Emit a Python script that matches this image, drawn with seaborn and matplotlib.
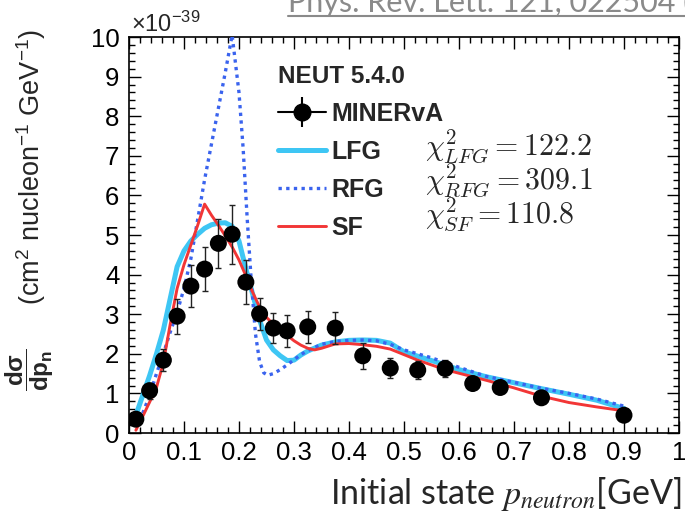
import matplotlib
matplotlib.use("Agg")
import numpy as np
import pandas as pd
import matplotlib.pyplot as plt
import seaborn as sns
from matplotlib.lines import Line2D
from matplotlib.legend_handler import HandlerTuple
from matplotlib.ticker import MultipleLocator, FuncFormatter

# MINERvA measurement: initial-state neutron momentum [GeV], d(sigma)/dp_n [1e-39 cm^2/nucleon/GeV]
data_p = [0.0125, 0.0375, 0.0625, 0.0875, 0.1125, 0.1375, 0.1625, 0.1875, 0.2125, 0.2375,
          0.2625, 0.2875, 0.325, 0.375, 0.425, 0.475, 0.525, 0.575, 0.625, 0.675, 0.75, 0.9]
data_xs = [0.35, 1.07, 1.84, 2.95, 3.71, 4.14, 4.79, 5.02, 3.81, 3.01,
           2.65, 2.58, 2.68, 2.65, 1.95, 1.64, 1.59, 1.63, 1.25, 1.15, 0.89, 0.45]
data_err = [0.08, 0.20, 0.28, 0.44, 0.53, 0.56, 0.61, 0.74, 0.56, 0.40,
            0.38, 0.40, 0.41, 0.40, 0.33, 0.25, 0.22, 0.22, 0.13, 0.12, 0.10, 0.08]

# NEUT 5.4.0 predictions
lfg_p = [0.0125, 0.025, 0.0375, 0.05, 0.0625, 0.075, 0.0875, 0.1, 0.1125, 0.125, 0.1375, 0.15,
         0.1625, 0.175, 0.1875, 0.2, 0.2125, 0.225, 0.2375, 0.25, 0.2625, 0.275, 0.2875, 0.3,
         0.3125, 0.325, 0.35, 0.375, 0.4, 0.425, 0.45, 0.475, 0.5, 0.525, 0.55, 0.575, 0.6,
         0.65, 0.7, 0.75, 0.8, 0.85, 0.9]
lfg_xs = [0.45, 0.95, 1.45, 2.0, 2.6, 3.4, 4.2, 4.6, 4.85, 5.02, 5.17, 5.26,
          5.30, 5.31, 5.22, 4.85, 4.15, 3.5, 2.85, 2.35, 2.1, 1.95, 1.83, 1.84,
          1.97, 2.07, 2.22, 2.30, 2.34, 2.35, 2.34, 2.27, 2.05, 1.94, 1.83, 1.72, 1.60,
          1.42, 1.27, 1.12, 0.98, 0.83, 0.62]

rfg_p = [0.0125, 0.025, 0.0375, 0.05, 0.0625, 0.075, 0.0875, 0.1, 0.1125, 0.125, 0.1375, 0.15,
         0.1625, 0.175, 0.1875, 0.2, 0.2075, 0.215, 0.2225, 0.23, 0.2375, 0.245, 0.2525, 0.2625,
         0.275, 0.2875, 0.3, 0.3125, 0.325, 0.35, 0.375, 0.4, 0.425, 0.45, 0.475, 0.5, 0.525,
         0.55, 0.575, 0.6, 0.65, 0.7, 0.75, 0.8, 0.85, 0.9]
rfg_xs = [0.15, 0.5, 0.95, 1.5, 2.0, 2.55, 3.05, 3.65, 4.4, 5.4, 6.4, 7.3,
          8.2, 9.1, 10.05, 8.6, 7.2, 5.4, 3.8, 2.5, 1.8, 1.52, 1.46, 1.5,
          1.6, 1.72, 1.85, 1.98, 2.08, 2.24, 2.31, 2.34, 2.35, 2.33, 2.24, 2.1, 2.0,
          1.9, 1.78, 1.66, 1.43, 1.28, 1.13, 1.0, 0.86, 0.68]

sf_p = [0.0125, 0.025, 0.0375, 0.05, 0.0625, 0.075, 0.0875, 0.1, 0.1125, 0.125, 0.1375, 0.15,
        0.1625, 0.175, 0.1875, 0.2, 0.2125, 0.225, 0.2375, 0.25, 0.2625, 0.275, 0.2875, 0.3,
        0.3125, 0.325, 0.3375, 0.35, 0.375, 0.4, 0.425, 0.45, 0.475, 0.5, 0.525, 0.55, 0.575,
        0.6, 0.65, 0.7, 0.75, 0.8, 0.85, 0.9]
sf_xs = [0.07, 0.42, 0.78, 1.15, 1.78, 2.75, 3.65, 4.25, 4.75, 5.25, 5.78, 5.5,
         5.25, 4.98, 4.70, 4.37, 3.97, 3.55, 3.18, 2.92, 2.75, 2.6, 2.47, 2.33,
         2.22, 2.14, 2.10, 2.14, 2.25, 2.26, 2.23, 2.19, 2.12, 1.98, 1.84, 1.72, 1.6,
         1.51, 1.33, 1.14, 0.93, 0.77, 0.66, 0.56]

model_names = ["LFG", "RFG", "SF"]
chi2_values = [122.2, 309.1, 110.8]

generator = "NEUT 5.4.0"
experiment = "MINERvA"
citation = "Phys. Rev. Lett. 121, 022504 ("

# ---------------------------------------------------------------- style
sns.set_theme(style="ticks")
plt.rcParams["font.family"] = ["Liberation Sans", "DejaVu Sans"]
plt.rcParams["mathtext.fontset"] = "custom"
plt.rcParams["mathtext.rm"] = "Liberation Sans"
plt.rcParams["mathtext.it"] = "Liberation Sans:italic"
plt.rcParams["mathtext.bf"] = "Liberation Sans:bold"
plt.rcParams["mathtext.sf"] = "Liberation Sans"

c_lfg = "#3ec6f4"
c_rfg = "#3a63ee"
c_sf = "#f23636"
dot_style = (0, (1.0, 1.3))

fig = plt.figure(figsize=(6.85, 5.13), dpi=100)
ax = fig.add_axes([0.1883, 0.1559, 0.8029, 0.7719])

lfg = pd.DataFrame({"p": lfg_p, "xs": lfg_xs})
rfg = pd.DataFrame({"p": rfg_p, "xs": rfg_xs})
sf = pd.DataFrame({"p": sf_p, "xs": sf_xs})
meas = pd.DataFrame({"p": data_p, "xs": data_xs, "err": data_err})

sns.lineplot(data=lfg, x="p", y="xs", ax=ax, color=c_lfg, lw=3.6, zorder=2,
             estimator=None, sort=False)
sns.lineplot(data=rfg, x="p", y="xs", ax=ax, color=c_rfg, lw=2.4, linestyle=dot_style,
             dash_capstyle="butt", zorder=3, estimator=None, sort=False)
sns.lineplot(data=sf, x="p", y="xs", ax=ax, color=c_sf, lw=2.1, zorder=4,
             estimator=None, sort=False)

ax.errorbar(meas["p"], meas["xs"], yerr=meas["err"], fmt="none", ecolor="#222222",
            elinewidth=1.0, capsize=2.3, capthick=1.0, zorder=5)
sns.scatterplot(data=meas, x="p", y="xs", ax=ax, color="black", s=150,
                edgecolor="none", zorder=6)

# ---------------------------------------------------------------- axes
ax.set_xlim(0, 1)
ax.set_ylim(0, 10)
ax.xaxis.set_major_locator(MultipleLocator(0.1))
ax.xaxis.set_minor_locator(MultipleLocator(0.02))
ax.yaxis.set_major_locator(MultipleLocator(1))
ax.yaxis.set_minor_locator(MultipleLocator(0.2))
ax.xaxis.set_major_formatter(FuncFormatter(lambda v, _: f"{v:g}"))
ax.yaxis.set_major_formatter(FuncFormatter(lambda v, _: f"{v:g}"))
ax.tick_params(which="both", direction="in", top=True, right=True, colors="black",
               width=1.0)
ax.tick_params(which="major", length=8.5, labelsize=18.5)
ax.tick_params(which="minor", length=4.5)
ax.tick_params(axis="y", which="major", pad=7)
ax.tick_params(axis="x", which="major", pad=6)
for s in ax.spines.values():
    s.set_linewidth(1.2)
    s.set_color("black")

ax.set_xlabel(r"Initial state $p_{neutron}$[GeV]", fontfamily="Lato", fontsize=24.5,
              math_fontfamily="stix", loc="right")
ax.xaxis.set_label_coords(1.005, -0.107)

# y title: units along the axis, bold derivative below them
ax.set_ylabel(r"(cm$^{2}$ nucleon$^{-1}$ GeV$^{-1}$)", fontsize=19.5)
ax.yaxis.set_label_coords(-0.147, 0.672)
ax.text(-0.133, 0.16, r"$\mathbf{\dfrac{d\sigma}{dp_{n}}}$", transform=ax.transAxes,
        rotation=90, ha="right", va="center", fontsize=17.5)

ax.text(0.003, 1.0, r"$\times10^{-39}$", transform=ax.transAxes, ha="left",
        va="bottom", fontsize=17)

# ---------------------------------------------------------------- legend
h_data = (Line2D([], [], color="black", lw=1.5),
          Line2D([], [], marker="o", ms=12, color="black", ls="none"),
          Line2D([], [], marker="|", ms=22, mew=1.5, color="black", ls="none"))
h_lfg = Line2D([], [], color=c_lfg, lw=3.6)
h_rfg = Line2D([], [], color=c_rfg, lw=2.4, linestyle=dot_style, dash_capstyle="butt")
h_sf = Line2D([], [], color=c_sf, lw=2.1)
leg = ax.legend([h_data, h_lfg, h_rfg, h_sf], [experiment] + model_names,
                handler_map={tuple: HandlerTuple(ndivide=1)},
                title=generator, title_fontproperties={"weight": "bold", "size": 17.5},
                prop={"weight": "bold", "size": 18}, alignment="left",
                loc="upper left", bbox_to_anchor=(0.271, 0.929), frameon=False,
                borderaxespad=0, borderpad=0, handlelength=1.9, handletextpad=0.25,
                labelspacing=0.56)

# chi-square values of each model against the data
for i, (name, val) in enumerate(zip(model_names, chi2_values)):
    ax.text(0.538, 0.702 - i * 0.0859, rf"$\chi^{{2}}_{{{name}}} = {val}$",
            transform=ax.transAxes, ha="left", va="baseline", fontsize=21.5,
            math_fontfamily="cm")

# reference line at the top
fig.text(288 / 685, 1 - 12 / 513, citation, color="#8a8a8a", fontfamily="Lato",
         fontsize=22, ha="left", va="baseline")
fig.add_artist(Line2D([288 / 685, 1.0], [1 - 15.5 / 513] * 2, transform=fig.transFigure,
                      color="#8a8a8a", lw=1.5))

fig.savefig("out.png", dpi=100)
